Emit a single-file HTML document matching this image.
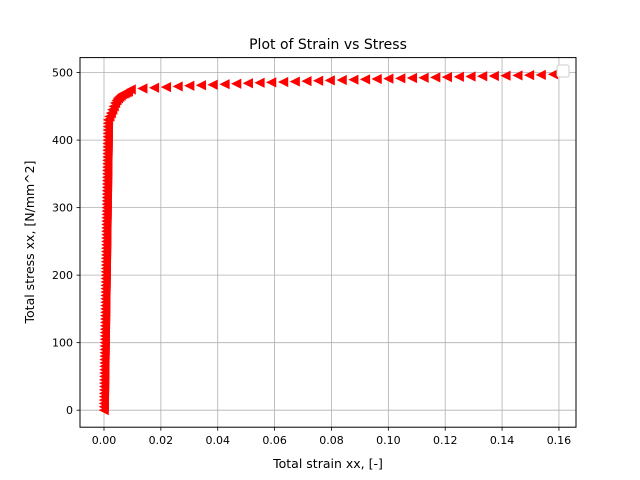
<!DOCTYPE html>
<html><head><meta charset="utf-8"><style>body{margin:0;background:#fff}svg{display:block;font-family:"DejaVu Sans","Liberation Sans",sans-serif}</style></head>
<body>
<svg id="chart" width="640" height="480" xmlns="http://www.w3.org/2000/svg">
<rect width="640" height="480" fill="#fff"/>
<g id="grid"></g>
<g id="marks"></g>
<rect x="80" y="57.6" width="496" height="369.6" fill="none" stroke="#000" stroke-width="1"/>
<g id="ticks"></g>
<text x="328" y="49" font-size="14" text-anchor="middle">Plot of Strain vs Stress</text>
<text x="328" y="468" font-size="12.5" text-anchor="middle">Total strain xx, [-]</text>
<text transform="translate(34,242) rotate(-90)" font-size="12.5" text-anchor="middle">Total stress xx, [N/mm^2]</text>
<rect x="557" y="65" width="12" height="12" rx="2" fill="#fff" stroke="#ccc"/>
</svg>
<script>
const strain = [0,0.00002,0.00004,0.00005,0.00007,0.00009,0.00011,0.00012,0.00014,0.00016,0.00018,0.00019,0.00021,0.00023,0.00025,0.00026,0.00028,0.0003,0.00032,0.00033,0.00035,
0.00037,0.00039,0.0004,0.00042,0.00044,0.00046,0.00047,0.00049,0.00051,0.00053,
0.00054,0.00056,0.00058,0.0006,0.00061,0.00063,0.00065,0.00067,0.00068,0.0007,
0.00072,0.00074,0.00075,0.00077,0.00079,0.00081,0.00082,0.00084,0.00086,0.00088,
0.00089,0.00091,0.00093,0.00095,0.00096,0.00098,0.001,0.00102,0.00103,0.00105,
0.00107,0.00109,0.0011,0.00112,0.00114,0.00116,0.00117,0.00119,0.00121,0.00123,
0.00124,0.00126,0.00128,0.0013,0.00131,0.00133,0.00135,0.00137,0.00138,0.0014,
0.00142,0.00144,0.00145,0.00147,0.00149,0.00151,
0.002,0.0025,0.003,0.0035,0.004,0.0045,0.005,0.0055,0.006,0.0065,0.007,0.0075,0.008,0.0085,
0.0095,0.0136,0.0177,0.0219,0.026,0.0301,0.0342,0.0383,0.0425,0.0466,0.0507,0.0548,0.0589,0.0631,0.0672,0.0713,0.0754,0.0795,0.0837,0.0878,0.0919,0.096,0.1001,0.1043,0.1084,0.1125,0.1166,0.1207,0.1249,0.129,0.1331,0.1372,0.1413,0.1455,0.1496,0.1537,0.158];
const stress = [0,5,10,15,20,25,30,35,40,45,50,55,60,65,70,75,80,85,90,95,100,
105,110,115,120,125,130,135,140,145,150,
155,160,165,170,175,180,185,190,195,200,
205,210,215,220,225,230,235,240,245,250,
255,260,265,270,275,280,285,290,295,300,
305,310,315,320,325,330,335,340,345,350,
355,360,365,370,375,380,385,390,395,400,
405,410,415,420,425,430,
435,440,445,450,455,459,462,464,466,468,469,470,471,472,
475,476.5,477.5,478.5,479.5,480.5,481.3,482,482.8,483.5,484.2,484.9,485.5,486.1,486.7,487.3,487.9,488.4,489,489.5,490,490.5,491,491.5,492,492.4,492.9,493.3,493.8,494.2,494.6,495,495.4,495.8,496.2,496.6,497.5];
const xTicks = [0,0.02,0.04,0.06,0.08,0.10,0.12,0.14,0.16];
const yTicks = [0,100,200,300,400,500];
const xMin=-0.00844, xMax=0.1660, yMin=-25.2, yMax=522.2;
const L=80,R=576,T=57.6,B=427.2;
const sx=v=>L+(v-xMin)/(xMax-xMin)*(R-L);
const sy=v=>B-(v-yMin)/(yMax-yMin)*(B-T);
const NS="http://www.w3.org/2000/svg";
const grid=document.getElementById('grid'),ticks=document.getElementById('ticks'),marks=document.getElementById('marks');
function mk(tag,attrs,parent){const e=document.createElementNS(NS,tag);for(const k in attrs)e.setAttribute(k,attrs[k]);parent.appendChild(e);return e;}
xTicks.forEach(v=>{const x=sx(v);
 const g=mk('line',{x1:x,x2:x,y1:T,y2:B,stroke:'#b0b0b0','stroke-width':0.8},grid);
 
 
 mk('line',{x1:x,x2:x,y1:B,y2:B+3.5,stroke:'#000','stroke-width':0.8},ticks);
 const t=mk('text',{x:x,y:B+17,'font-size':11,'text-anchor':'middle'},ticks);t.textContent=v.toFixed(2);
 
 });
yTicks.forEach(v=>{const y=sy(v);
 const g=mk('line',{x1:L,x2:R,y1:y,y2:y,stroke:'#b0b0b0','stroke-width':0.8},grid);
 
 
 mk('line',{x1:L-3.5,x2:L,y1:y,y2:y,stroke:'#000','stroke-width':0.8},ticks);
 const t=mk('text',{x:L-7,y:y+4,'font-size':11,'text-anchor':'end'},ticks);t.textContent=v;
 
 });
const r=4.3;
strain.forEach((v,i)=>{const x=sx(v),y=sy(stress[i]);
 const p=mk('polygon',{points:`${x-r},${y} ${x+r},${y-r} ${x+r},${y+r}`,fill:'#ff0000',stroke:'#ff0000','stroke-width':1},marks);
 
 });
</script>
</body></html>
